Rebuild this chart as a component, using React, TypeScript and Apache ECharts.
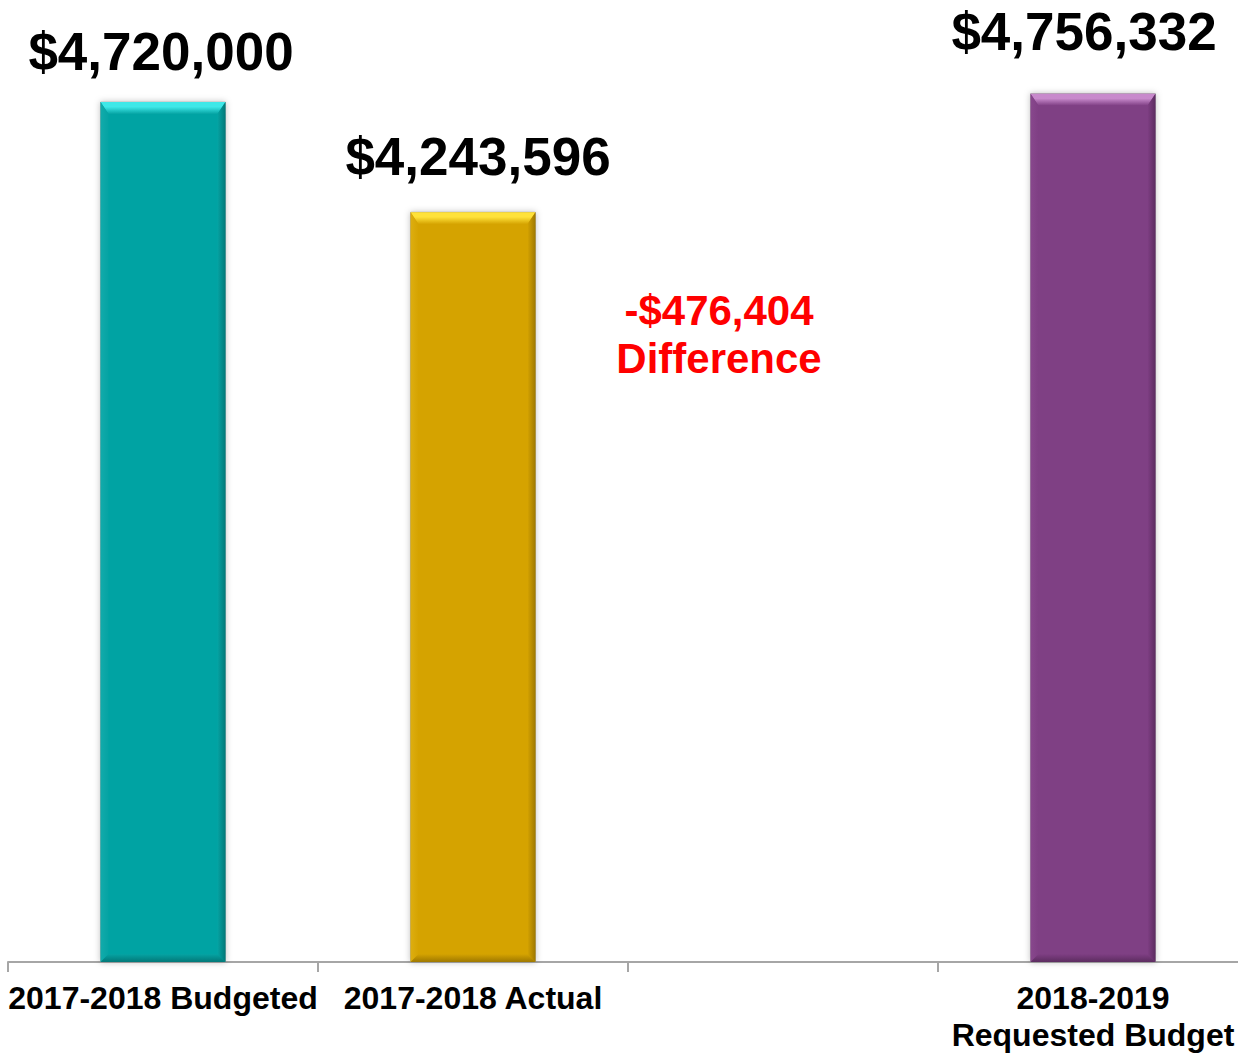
import React, { useEffect, useRef } from "react";
import * as echarts from "echarts";

const CATEGORIES = ["2017-2018 Budgeted", "2017-2018 Actual", "", "2018-2019\nRequested Budget"];
const BAR_INDEX = [0, 1, 3];
const BAR_VALUES = [4720000, 4243596, 4756332];
const BAR_COLORS = [
  { base: "#05A3A3", light: "#3FE8E8", side: "#12ABAB", dark: "#027878" },
  { base: "#D5A301", light: "#FFE23A", side: "#DDAE10", dark: "#9E7800" },
  { base: "#7F3F84", light: "#C88ACC", side: "#88488D", dark: "#5C2C60" },
];
const Y_MIN = 1000000;
const Y_MAX = 5000000;
const LABEL_DX = [-2, 5, -9];
const LABEL_GAP = [50.5, 55.5, 62.5];

const fmt = (v: number) => (v < 0 ? "-" : "") + "$" + Math.abs(v).toLocaleString("en-US");

export default function App() {
  const ref = useRef<HTMLDivElement>(null);
  useEffect(() => {
    if (!ref.current) return;
    const chart = echarts.init(ref.current, null, { renderer: "svg" });
    const diff = BAR_VALUES[1] - BAR_VALUES[0];
    const FONT = "Liberation Sans, Arial, sans-serif";
    chart.setOption({
      animation: false,
      grid: {
        left: 8,
        width: 1240,
        top: 37.3,
        bottom: 91,
        containLabel: false,
        outerBoundsMode: "none",
      },
      xAxis: {
        type: "category",
        data: CATEGORIES,
        axisLine: { show: true, lineStyle: { color: "#A6A6A6", width: 2 } },
        axisTick: { show: true, length: 10, lineStyle: { color: "#A6A6A6", width: 2 } },
        axisLabel: {
          interval: 0,
          color: "#000",
          fontFamily: FONT,
          fontWeight: "bold",
          fontSize: 32,
          lineHeight: 37,
          margin: 17,
          hideOverlap: false,
        },
        splitLine: { show: false },
      },
      yAxis: {
        type: "value",
        min: Y_MIN,
        max: Y_MAX,
        show: false,
        splitLine: { show: false },
      },
      series: [
        {
          type: "custom",
          clip: false,
          data: BAR_INDEX.map((c, i) => [c, BAR_VALUES[i]]),
          renderItem: (params: any, api: any) => {
            const i = params.dataIndex;
            const col = BAR_COLORS[i];
            const top = api.coord([api.value(0), api.value(1)]);
            const bot = api.coord([api.value(0), Y_MIN]);
            const w = api.size([1, 0])[0] * 0.403;
            const x0 = top[0] - w / 2;
            const x1 = top[0] + w / 2;
            const y0 = top[1];
            const y1 = bot[1];
            const bt = 12;
            const bs = 8;
            return {
              type: "group",
              children: [
                {
                  type: "rect",
                  shape: { x: x0, y: y0, width: w, height: y1 - y0 },
                  style: {
                    fill: col.base,
                    stroke: "rgba(150,150,150,0.6)",
                    lineWidth: 1,
                    shadowBlur: 6,
                    shadowColor: "rgba(0,0,0,0.25)",
                    shadowOffsetX: 0,
                    shadowOffsetY: 0,
                  },
                },
                {
                  type: "polygon",
                  shape: { points: [[x0, y0], [x1, y0], [x1 - bs, y0 + bt], [x0 + bs, y0 + bt]] },
                  style: {
                    fill: new echarts.graphic.LinearGradient(0, 0, 0, 1, [
                      { offset: 0, color: col.light },
                      { offset: 0.4, color: col.light },
                      { offset: 1, color: col.base },
                    ]),
                  },
                },
                {
                  type: "polygon",
                  shape: { points: [[x0, y0], [x0 + bs, y0 + bt], [x0 + bs, y1 - bs], [x0, y1]] },
                  style: {
                    fill: new echarts.graphic.LinearGradient(0, 0, 1, 0, [
                      { offset: 0, color: col.side },
                      { offset: 1, color: col.base },
                    ]),
                  },
                },
                {
                  type: "polygon",
                  shape: { points: [[x1, y0], [x1 - bs, y0 + bt], [x1 - bs, y1 - bs], [x1, y1]] },
                  style: {
                    fill: new echarts.graphic.LinearGradient(0, 0, 1, 0, [
                      { offset: 0, color: col.base },
                      { offset: 1, color: col.dark },
                    ]),
                  },
                },
                {
                  type: "polygon",
                  shape: { points: [[x0, y1], [x0 + bs, y1 - bs], [x1 - bs, y1 - bs], [x1, y1]] },
                  style: {
                    fill: new echarts.graphic.LinearGradient(0, 0, 0, 1, [
                      { offset: 0, color: col.base },
                      { offset: 1, color: col.dark },
                    ]),
                  },
                },
                {
                  type: "text",
                  x: top[0] + LABEL_DX[i],
                  y: y0 - LABEL_GAP[i],
                  style: {
                    text: fmt(BAR_VALUES[i]),
                    align: "center",
                    verticalAlign: "middle",
                    fill: "#000",
                    fontFamily: FONT,
                    fontWeight: "bold",
                    fontSize: 53,
                  },
                },
              ],
            };
          },
        },
      ],
      graphic: [
        {
          type: "text",
          x: 719,
          y: 334,
          style: {
            text: fmt(diff) + "\nDifference",
            align: "center",
            verticalAlign: "middle",
            fill: "#FF0000",
            fontFamily: FONT,
            fontWeight: "bold",
            fontSize: 42,
            lineHeight: 48,
          },
        },
      ],
    });
    return () => chart.dispose();
  }, []);
  return (
    <div
      ref={ref}
      style={{ position: "fixed", left: 0, top: 0, width: 1238, height: 1053, background: "#fff" }}
    />
  );
}
